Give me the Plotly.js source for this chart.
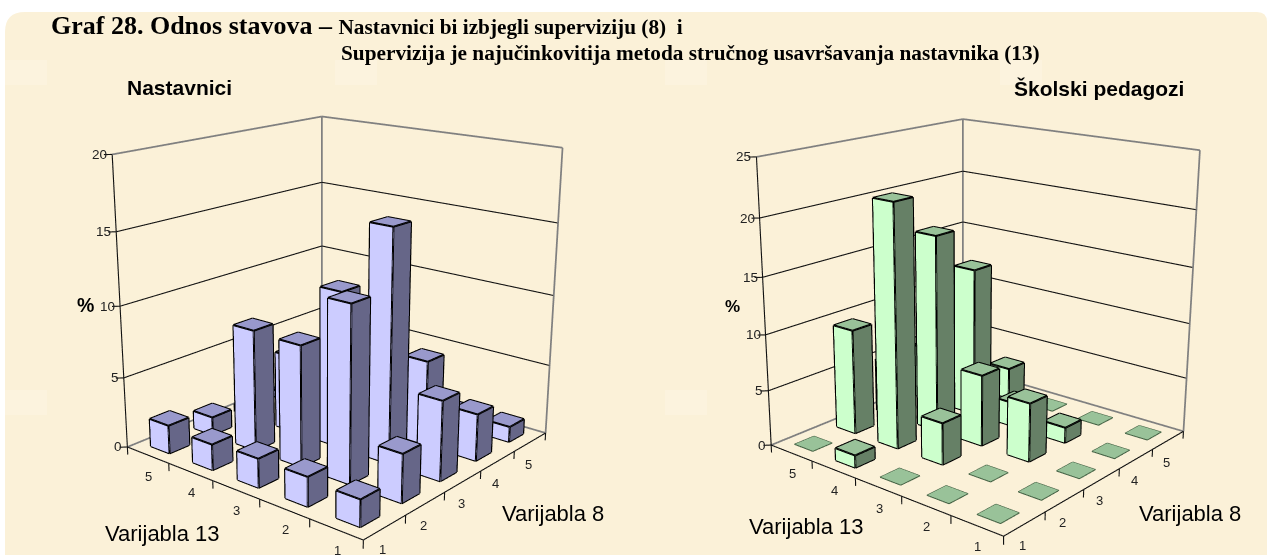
<!DOCTYPE html>
<html><head><meta charset="utf-8">
<script src="https://cdn.plot.ly/plotly-3.0.1.min.js"></script>
<style>html,body{margin:0;padding:0;width:1267px;height:555px;overflow:hidden;background:#fff}
#chart{position:absolute;left:0;top:-201px;width:1267px;height:1028px}</style>
</head><body><div id="chart"></div>
<script>
var categories=[1,2,3,4,5];
// rows: Varijabla 13 = 1..5, columns: Varijabla 8 = 1..5
var nastavnici=[
 [1.8,3.3,5.5,3.3,1.1],
 [2,12,16,6,1],
 [2,8.4,11,0.6,0.5],
 [1.8,8.5,5.5,0.5,0.5],
 [2,1.3,0.6,0.5,0.5]];
var pedagozi=[
 [0,0,0,0,0],
 [0,0,5.2,1.4,0],
 [0,3.7,6.4,2.2,0],
 [1.1,21.5,17.7,13.6,2.9],
 [0,9.5,5,5,2.5]];
var zTicks1=[0,5,10,15,20], zTicks2=[0,5,10,15,20,25];
var H=1028,TOP=201,W=1267;
function px(x){return x/W} function py(y){return 1-(y+TOP)/H}
function build(vals,zmax,cols,sceneName){
 var hw=0.225,X=[],Y=[],Z=[],I=[],J=[],K=[],FC=[],ex=[],ey=[],ez=[],fx=[],fy=[],fz=[];
 function seg(a,b,ax,ay,az){ax.push(a[0],b[0],null);ay.push(a[1],b[1],null);az.push(a[2],b[2],null)}
 function quad(p,c){var n=X.length;p.forEach(function(q){X.push(q[0]);Y.push(q[1]);Z.push(q[2])});
  I.push(n,n);J.push(n+1,n+2);K.push(n+2,n+3);FC.push(c,c)}
 vals.forEach(function(row,r){row.forEach(function(v,c){
  var x=categories[c],y=categories[r],x0=x-hw,x1=x+hw,y0=y-hw,y1=y+hw;
  var a=[x0,y0,v],b=[x1,y0,v],d=[x1,y1,v],e=[x0,y1,v],a0=[x0,y0,0],b0=[x1,y0,0],e0=[x0,y1,0];
  quad([a,b,d,e],cols.top);
  if(v>0){
   quad([a0,e0,e,a],cols.left);quad([a0,b0,b,a],cols.right);
   [[a,b],[b,d],[d,e],[e,a],[a,a0],[b,b0],[e,e0],[a0,b0],[a0,e0]].forEach(function(s){seg(s[0],s[1],ex,ey,ez)});
  } else {[[a,b],[b,d],[d,e],[e,a]].forEach(function(s){seg(s[0],s[1],fx,fy,fz)})}
 })});
 var lo=0.5,hi=5.5;
 var gx=[],gy=[],gz=[],kx=[],ky=[],kz=[],bx=[],by=[],bz=[];
 var ticks=sceneName==='scene'?zTicks1:zTicks2;
 ticks.forEach(function(z){
  var g=(z===0||z===zmax);
  seg([lo,hi,z],[hi,hi,z],g?gx:kx,g?gy:ky,g?gz:kz);
  seg([hi,hi,z],[hi,lo,z],g?gx:kx,g?gy:ky,g?gz:kz);
  seg([lo,hi,z],[lo-0.09,hi+0.09,z],bx,by,bz);
 });
 seg([hi,hi,0],[hi,hi,zmax],gx,gy,gz);seg([hi,lo,0],[hi,lo,zmax],gx,gy,gz);
 seg([lo,hi,0],[lo,hi,zmax],bx,by,bz);seg([lo,hi,0],[lo,lo,0],bx,by,bz);seg([lo,lo,0],[hi,lo,0],bx,by,bz);
 for(var i=0;i<=5;i++){var p=lo+i;
  seg([lo,p,0],[lo,p,-zmax*0.028],bx,by,bz);seg([p,lo,0],[p,lo,-zmax*0.028],bx,by,bz);}
 return [
  {type:'scatter3d',mode:'lines',scene:sceneName,x:gx,y:gy,z:gz,line:{color:'#808080',width:3.5},hoverinfo:'skip',showlegend:false},
  {type:'scatter3d',mode:'lines',scene:sceneName,x:kx,y:ky,z:kz,line:{color:'#111',width:2.2},hoverinfo:'skip',showlegend:false},
  {type:'scatter3d',mode:'lines',scene:sceneName,x:bx,y:by,z:bz,line:{color:'#111',width:2.2},hoverinfo:'skip',showlegend:false},
  {type:'mesh3d',scene:sceneName,x:X,y:Y,z:Z,i:I,j:J,k:K,facecolor:FC,flatshading:true,hoverinfo:'skip',showscale:false,
   lighting:{ambient:1,diffuse:0,specular:0,roughness:1,fresnel:0},lightposition:{x:0,y:0,z:1000}},
  {type:'scatter3d',mode:'lines',scene:sceneName,x:ex,y:ey,z:ez,line:{color:'#000',width:4},hoverinfo:'skip',showlegend:false},
  {type:'scatter3d',mode:'lines',scene:sceneName,x:fx,y:fy,z:fz,line:{color:'#3f5c3f',width:2},hoverinfo:'skip',showlegend:false}
 ];
}
var f={family:'Liberation Sans, Arial, sans-serif',color:'#222'};
function sceneAnn(zt){
 var a=[];
 zt.forEach(function(z){a.push({x:0.5,y:5.5,z:z,text:String(z),showarrow:false,xanchor:'right',xshift:-3,font:Object.assign({size:13.5},f)})});
 categories.forEach(function(c){
  a.push({x:0.5,y:c,z:0,text:String(c),showarrow:false,yshift:-21,xshift:1,font:Object.assign({size:13},f)});
  a.push({x:c,y:0.5,z:0,text:String(c),showarrow:false,yshift:-22,xshift:-2,font:Object.assign({size:13},f)});
 });
 return a;
}
function scene(dom,zmax,zt,eye,center){
 var off={visible:false,showgrid:false,zeroline:false,showbackground:false,showticklabels:false,showspikes:false,title:{text:''}};
 var zlo=-zmax*0.05,zhi=zmax*1.01;
 return {domain:{x:dom,y:[0,1]},bgcolor:'rgba(0,0,0,0)',dragmode:false,
  xaxis:Object.assign({range:[0.3,5.7]},off),yaxis:Object.assign({range:[0.3,5.7]},off),
  zaxis:Object.assign({range:[zlo,zhi]},off),
  aspectmode:'manual',aspectratio:{x:1.08,y:1.08,z:(zhi-zlo)/zmax*0.98},
  camera:{eye:eye,center:center,up:{x:0,y:0,z:1},projection:{type:'perspective'}},
  annotations:sceneAnn(zt)};
}
var rl=20/W,rt=20/H,rr=10/W,rrt=10/H;
var x0=px(5),y0=py(12),y1=py(555),x1=1;
var bg='M '+(x0+rl)+' '+y0+' L '+(x1-rr)+' '+y0+' Q '+x1+' '+y0+' '+x1+' '+(y0-rrt)+' L '+x1+' '+y1+' L '+x0+' '+y1+' L '+x0+' '+(y0-rt)+' Q '+x0+' '+y0+' '+(x0+rl)+' '+y0+' Z';
function ann(x,y,text,size,bold,family,anchor){return {xref:'paper',yref:'paper',x:px(x),y:py(y),text:bold?'<b>'+text+'</b>':text,showarrow:false,xanchor:anchor||'left',yanchor:'middle',font:{size:size,family:family||f.family,color:'#000'}}}
var serif='Liberation Serif, Times New Roman, serif';
var shapes=[{type:'path',xref:'paper',yref:'paper',path:bg,fillcolor:'#FBF1D8',line:{width:0},layer:'below'}];
var tileX=[5,335,665,1000], tileY=[60,390];
tileX.forEach(function(tx){tileY.forEach(function(ty){
 shapes.push({type:'rect',xref:'paper',yref:'paper',x0:px(tx),x1:px(tx+42),y0:py(ty),y1:py(ty+25),fillcolor:'#FFF7EC',opacity:0.3,line:{width:0},layer:'below'});
})});
var layout={width:W,height:H,margin:{l:0,r:0,t:0,b:0},paper_bgcolor:'rgba(0,0,0,0)',showlegend:false,
 shapes:shapes,
 scene:scene([0,644/W],20,zTicks1,{x:-2.976,y:-2.443,z:1.207},{x:-0.09,y:0,z:0}),
 scene2:scene([659/W,1],25,zTicks2,{x:-3.02,y:-2.48,z:1.225},{x:-0.09,y:0,z:0}),
 annotations:[
  ann(49,25,'Graf 28. Odnos stavova <span style="font-size:26px">–</span> <span style="font-size:21.3px">Nastavnici bi izbjegli superviziju (8)  i</span>',26,true,serif),
  ann(339,53,'Supervizija je najučinkovitija metoda stručnog usavršavanja nastavnika (13)',21.3,true,serif),
  ann(125,87,'Nastavnici',21,true),
  ann(1186,88,'Školski pedagozi',21,true,null,'right'),
  ann(75,305,'%',19.5,true),
  ann(723,306,'%',17,true),
  ann(103,533,'Varijabla 13',22),
  ann(500,513,'Varijabla 8',22),
  ann(747,526,'Varijabla 13',22),
  ann(1137,513,'Varijabla 8',22)
 ]};
var traces=build(nastavnici,20,{top:'#9999CC',left:'#CCCCFF',right:'#666688'},'scene')
 .concat(build(pedagozi,25,{top:'#99C299',left:'#CCFFCC',right:'#668066'},'scene2'));
Plotly.newPlot('chart',traces,layout,{displayModeBar:false,responsive:false});
</script></body></html>
